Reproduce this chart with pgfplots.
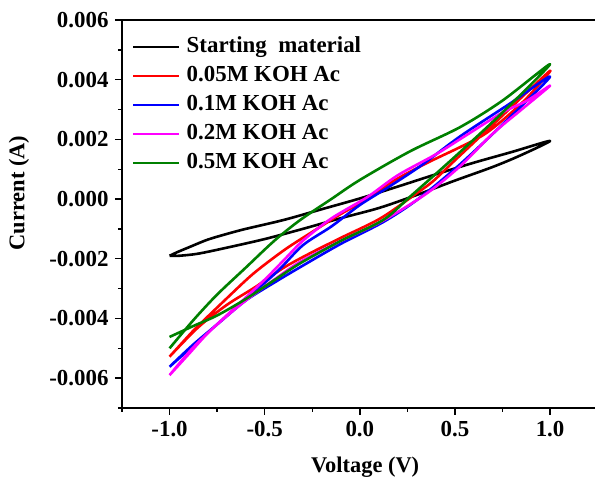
\documentclass[border=0pt]{standalone}
\usepackage{fontspec}
\setmainfont{Liberation Serif}
\usepackage{pgfplots}
\pgfplotsset{compat=1.18}
\definecolor{cgreen}{RGB}{0,128,0}
\definecolor{cmag}{RGB}{255,0,255}
\begin{document}
\begin{tikzpicture}
\begin{axis}[
  name=ax,
  scale only axis, width=473bp, height=388bp,
  xmin=-1.25, xmax=1.236, ymin=-0.007, ymax=0.006,
  clip=false,
  axis lines=left, axis line style={line width=1.6bp, -},
  xtick={-1,-0.5,0,0.5,1}, minor xtick={-1.25,-0.75,-0.25,0.25,0.75},
  ytick={-0.006,-0.004,-0.002,0,0.002,0.004,0.006},
  minor ytick={-0.007,-0.005,-0.003,-0.001,0.001,0.003,0.005},
  tick align=outside, major tick length=7bp, minor tick length=4bp,
  every tick/.style={line width=1.4bp, black},
  scaled y ticks=false, scaled x ticks=false,
  yticklabel style={/pgf/number format/.cd, fixed, fixed zerofill, precision=3, /tikz/.cd, xshift=-3bp},
  xticklabel style={/pgf/number format/.cd, fixed, fixed zerofill, precision=1, /tikz/.cd, yshift=-3bp},
  /pgf/number format/assume math mode=true,
  tick label style={font=\bfseries\fontsize{23}{23}\selectfont},
  xlabel={Voltage (V)}, ylabel={Current (A)},
  every axis x label/.style={at={(axis description cs:0.514,-0.165)}, anchor=base},
  every axis y label/.style={at={(axis description cs:-0.2178,0.554)}, anchor=center, rotate=90},
  label style={font=\bfseries\fontsize{22.5}{22.5}\selectfont},
  legend style={draw=none, fill=none, at={(axis description cs:0.021,0.963)}, anchor=north west,
    font=\bfseries\fontsize{23}{23}\selectfont, row sep=4bp, inner sep=0pt,
    nodes={text height=16bp, text depth=5bp, inner sep=2bp},
    /tikz/every odd column/.append style={column sep=4bp}},
  legend cell align=left,
  legend image code/.code={\draw[#1] (0bp,0bp) -- (46bp,0bp);},
  every axis plot/.append style={line width=2.6bp, line join=round, smooth, tension=0.5},
]
\addplot[black] coordinates {
(-1,-0.0019)(-0.96,-0.00178)(-0.9,-0.00162)(-0.8,-0.00136)(-0.7,-0.00117)(-0.6,-0.00100)(-0.4,-0.0007)(-0.2,-0.00034)(0,0.00002)(0.2,0.00042)(0.4,0.00083)(0.6,0.00122)(0.8,0.00158)(1.0,0.00195)
(0.85,0.00148)(0.7,0.00108)(0.5,0.00062)(0.3,0.00014)(0.1,-0.0003)(-0.1,-0.00064)(-0.3,-0.00100)(-0.5,-0.00134)(-0.7,-0.00163)(-0.85,-0.00183)(-0.95,-0.0019)(-1,-0.0019)
};
\addlegendentry{Starting\ \ material}
\addplot[red] coordinates {
(-1,-0.00528)(-0.9,-0.00458)(-0.85,-0.00425)(-0.7,-0.00333)(-0.56,-0.0025)(-0.4,-0.00172)(-0.26,-0.00114)(-0.1,-0.0005)(0.04,0.0)(0.175,0.0006)(0.35,0.0012)(0.527,0.00174)(0.65,0.00215)(0.752,0.00265)(0.88,0.0034)(1.0,0.0043)
(0.75,0.0028)(0.5,0.0013)(0.385,0.0006)(0.3,0.0002)(0.11,-0.00064)(-0.1,-0.0013)(-0.26,-0.00181)(-0.4,-0.0023)(-0.55,-0.00295)(-0.7,-0.00355)(-0.85,-0.0043)(-1,-0.00528)
};
\addlegendentry{0.05M KOH Ac}
\addplot[blue] coordinates {
(-1,-0.00562)(-0.9,-0.00505)(-0.785,-0.00439)(-0.61,-0.00342)(-0.433,-0.00242)(-0.3,-0.00155)(-0.15,-0.00092)(0,-0.0002)(0.15,0.0004)(0.317,0.0011)(0.527,0.0021)(0.789,0.0032)(1.0,0.0041)
(0.75,0.0025)(0.51,0.00107)(0.3,-0.00003)(0.123,-0.00077)(-0.1,-0.0015)(-0.313,-0.00228)(-0.45,-0.0028)(-0.6,-0.0034)(-0.75,-0.0042)(-0.88,-0.0049)(-1,-0.00562)
};
\addlegendentry{0.1M KOH Ac}
\addplot[cmag] coordinates {
(-1,-0.0059)(-0.9,-0.0052)(-0.8,-0.0045)(-0.65,-0.0036)(-0.5,-0.0027)(-0.4,-0.00205)(-0.3,-0.0014)(-0.15,-0.00065)(0.04,0.00007)(0.2,0.0008)(0.4,0.0015)(0.55,0.0021)(0.75,0.0029)(0.88,0.0033)(1.0,0.0038)
(0.85,0.003)(0.7,0.0022)(0.527,0.0011)(0.354,0.0002)(0.123,-0.00072)(-0.1,-0.0014)(-0.313,-0.0021)(-0.45,-0.0027)(-0.6,-0.0034)(-0.75,-0.0042)(-0.88,-0.0050)(-1,-0.0059)
};
\addlegendentry{0.2M KOH Ac}
\addplot[cgreen] coordinates {
(-1,-0.0050)(-0.874,-0.00405)(-0.75,-0.0032)(-0.6,-0.0023)(-0.45,-0.0014)(-0.313,-0.0007)(-0.15,0.0)(0,0.00064)(0.264,0.0016)(0.527,0.00241)(0.75,0.0033)(1.0,0.00452)
(0.75,0.0029)(0.5,0.00142)(0.264,0.00008)(0.123,-0.0007)(-0.1,-0.0014)(-0.313,-0.00215)(-0.45,-0.00272)(-0.6,-0.00335)(-0.75,-0.0039)(-0.874,-0.00425)(-1,-0.00462)
};
\addlegendentry{0.5M KOH Ac}
\draw[line width=1.6bp] (rel axis cs:0,1) -- (rel axis cs:1,1);
\end{axis}
\pgfresetboundingbox
\path[use as bounding box] ([shift={(-122bp,-69bp)}]ax.south west) rectangle ([shift={(0bp,20bp)}]ax.north east);
\end{tikzpicture}
\end{document}
